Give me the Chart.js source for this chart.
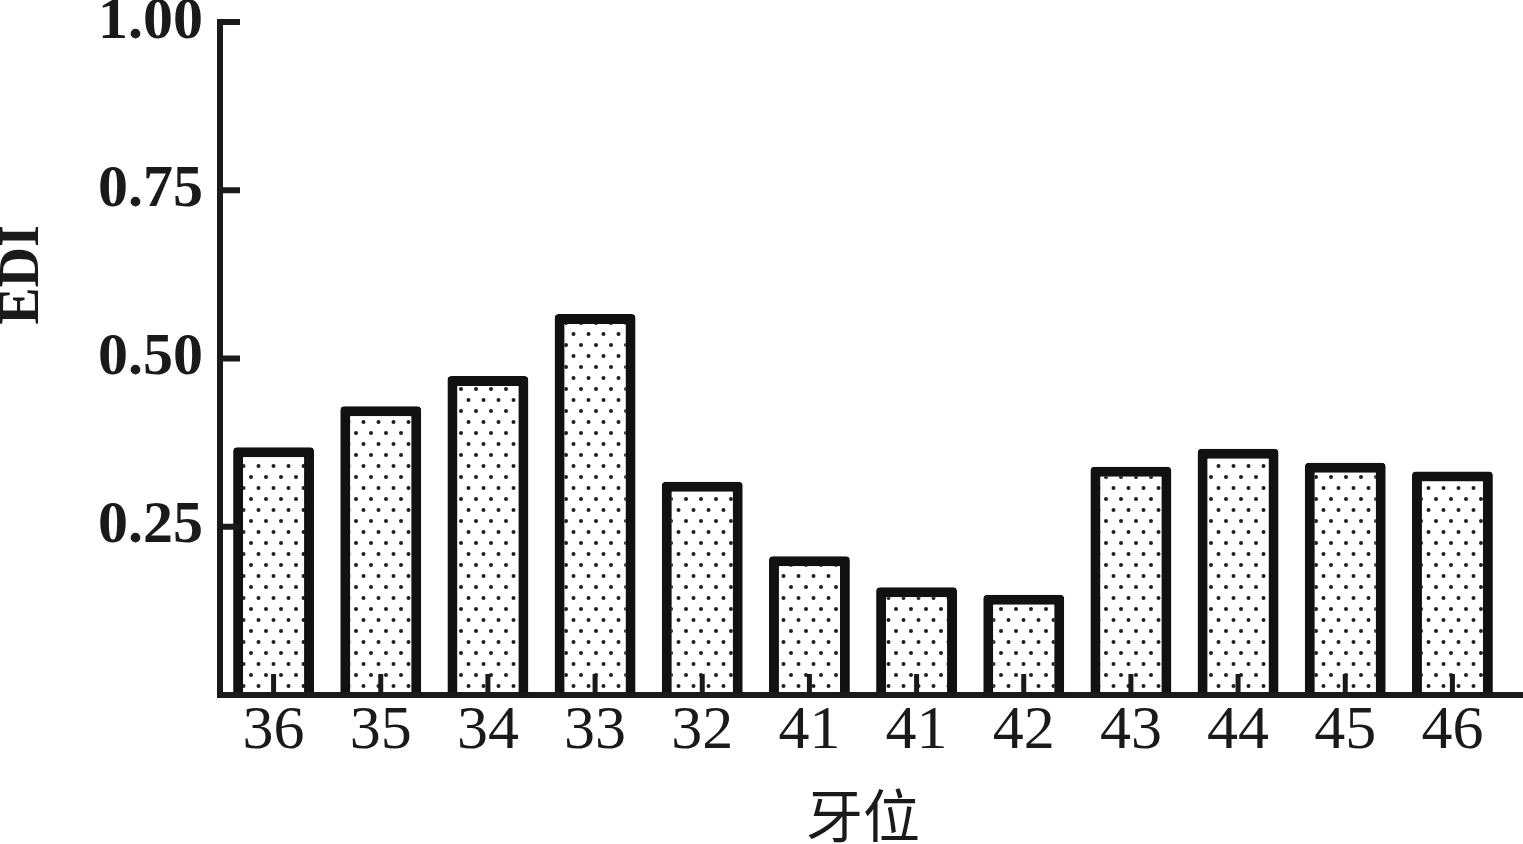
<!DOCTYPE html>
<html>
<head>
<meta charset="utf-8">
<script src="https://cdn.jsdelivr.net/npm/chart.js@4.4.1/dist/chart.umd.min.js"></script>
<style>
  html, body { margin: 0; padding: 0; background: #fff; }
  #wrap { width: 1523px; height: 844px; }
</style>
</head>
<body>
<div id="wrap"><canvas id="myChart" width="1523" height="844"></canvas></div>
<script>
// Datos del gráfico
const categorias = ['36', '35', '34', '33', '32', '41', '41', '42', '43', '44', '45', '46'];
const valoresEDI = [0.368, 0.429, 0.474, 0.566, 0.317, 0.206, 0.160, 0.149, 0.339, 0.366, 0.345, 0.332];
const ticksY = [0.25, 0.50, 0.75, 1.00];

const negro = '#1a1a1a';

// Relleno punteado de las barras
function crearPatron() {
    const c = document.createElement('canvas');
    c.width = 15;
    c.height = 22;
    const g = c.getContext('2d');
    g.fillStyle = '#ffffff';
    g.fillRect(0, 0, 15, 22);
    g.fillStyle = '#1e1e1e';
    g.beginPath(); g.arc(3.5, 4, 2, 0, Math.PI * 2); g.fill();
    g.beginPath(); g.arc(11, 15, 2, 0, Math.PI * 2); g.fill();
    return g.createPattern(c, 'repeat');
}

// Ejes y marcas hacia dentro
const ejesPlugin = {
    id: 'ejes',
    afterDatasetsDraw(chart) {
        const { ctx, chartArea, scales } = chart;
        const x = scales.x, y = scales.y;
        ctx.save();
        ctx.strokeStyle = negro;
        ctx.lineCap = 'butt';
        // marcas eje y
        ctx.lineWidth = 6;
        ticksY.forEach(v => {
            const py = y.getPixelForValue(v);
            ctx.beginPath();
            ctx.moveTo(chartArea.left, py);
            ctx.lineTo(chartArea.left + 20, py);
            ctx.stroke();
        });
        // marcas eje x
        ctx.lineWidth = 5;
        categorias.forEach((c, i) => {
            const px = x.getPixelForValue(i);
            ctx.beginPath();
            ctx.moveTo(px, chartArea.bottom);
            ctx.lineTo(px, chartArea.bottom - 21);
            ctx.stroke();
        });
        // líneas de los ejes
        ctx.lineWidth = 6;
        ctx.beginPath();
        ctx.moveTo(chartArea.left, y.getPixelForValue(1) - 3);
        ctx.lineTo(chartArea.left, chartArea.bottom + 3);
        ctx.moveTo(chartArea.left - 3, chartArea.bottom);
        ctx.lineTo(chart.width, chartArea.bottom);
        ctx.stroke();
        // título eje y
        ctx.fillStyle = negro;
        ctx.font = 'bold 56px "Liberation Serif"';
        ctx.textAlign = 'center';
        ctx.textBaseline = 'middle';
        ctx.translate(22, 275);
        ctx.rotate(-Math.PI / 2);
        ctx.fillText('EDI', 0, 2);
        ctx.restore();
    }
};

function createChart() {
    const ctx = document.getElementById('myChart').getContext('2d');
    new Chart(ctx, {
        type: 'bar',
        data: {
            labels: categorias,
            datasets: [{
                label: 'EDI',
                data: valoresEDI,
                backgroundColor: crearPatron(),
                borderColor: '#111111',
                borderWidth: 10,
                borderRadius: 4,
                borderSkipped: 'start',
                barPercentage: 0.755,
                categoryPercentage: 1.0
            }]
        },
        options: {
            responsive: false,
            animation: false,
            devicePixelRatio: 1,
            layout: { padding: { left: 0, right: 17, top: 0, bottom: 0 } },
            plugins: {
                legend: { display: false },
                tooltip: { enabled: false }
            },
            scales: {
                x: {
                    grid: { display: false, drawTicks: false },
                    border: { display: false },
                    ticks: {
                        color: negro,
                        padding: 0,
                        font: { family: '"Liberation Serif"', size: 62 }
                    },
                    title: {
                        display: true,
                        text: '牙位',
                        color: negro,
                        font: { family: '"Noto Sans CJK SC"', size: 57, lineHeight: 1 },
                        padding: { top: 0, bottom: 0 }
                    },
                    afterFit(scale) { scale.height = 149; }
                },
                y: {
                    min: 0,
                    max: 1,
                    grid: { display: false, drawTicks: false },
                    border: { display: false },
                    afterBuildTicks(scale) {
                        scale.ticks = ticksY.map(v => ({ value: v }));
                    },
                    ticks: {
                        color: negro,
                        padding: 17,
                        font: { family: '"Liberation Serif"', size: 60, weight: 'bold' },
                        callback: v => Number(v).toFixed(2)
                    },
                    afterFit(scale) {
                        scale.width = 220;
                        scale.paddingTop = 22;
                        scale.paddingBottom = 0;
                    }
                }
            }
        },
        plugins: [ejesPlugin]
    });
}

document.addEventListener('DOMContentLoaded', () => {
    createChart();
});
</script>
</body>
</html>
